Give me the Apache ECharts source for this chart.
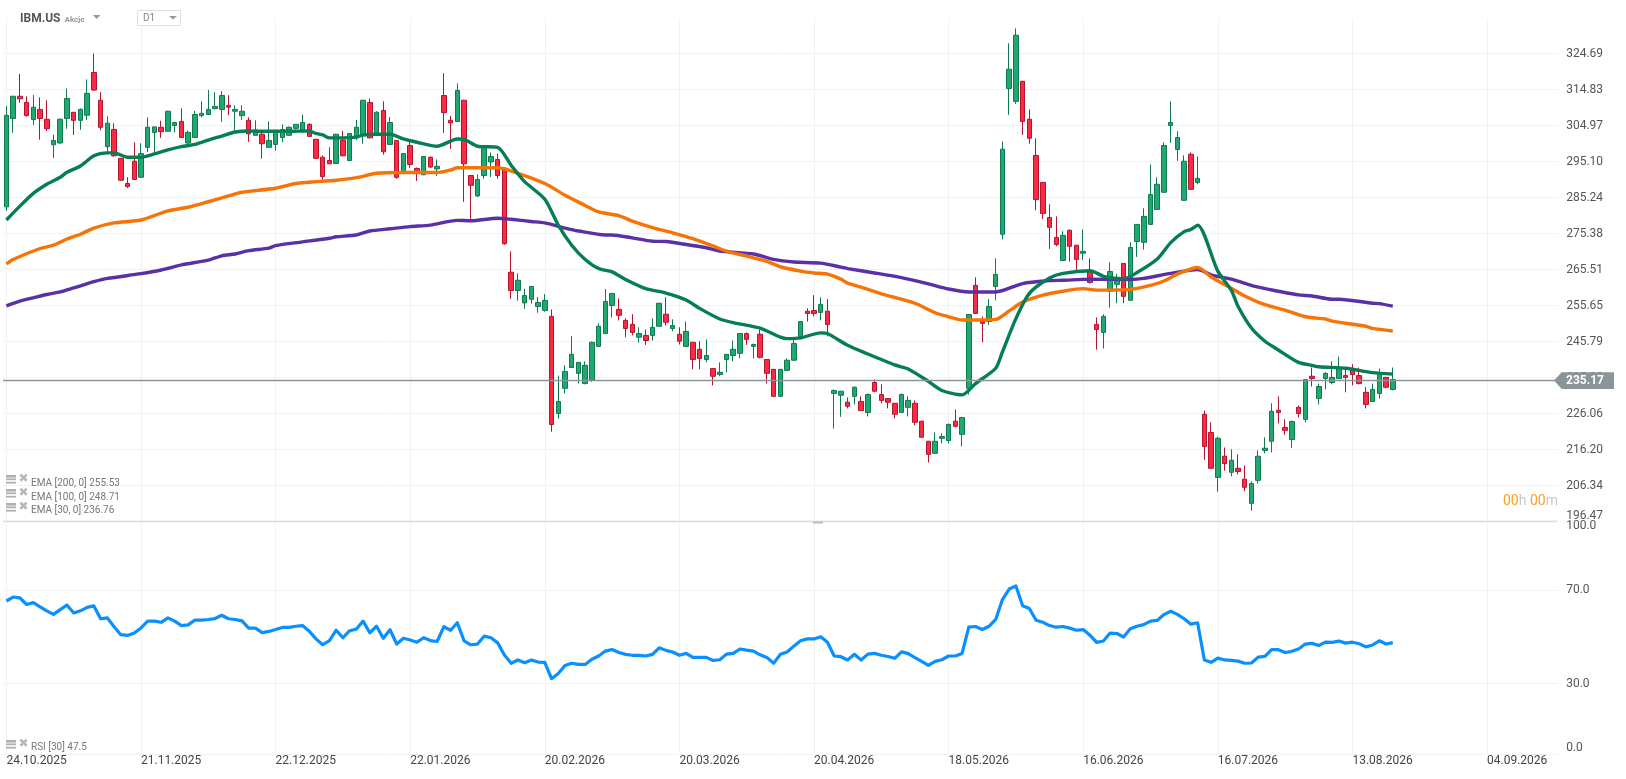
<!DOCTYPE html>
<html><head><meta charset="utf-8">
<style>html,body{margin:0;padding:0;background:#fff}#c{width:1626px;height:779px}</style>
<script src="https://cdn.jsdelivr.net/npm/echarts@6/dist/echarts.min.js"></script>
</head><body><div id="c"></div>
<script>
const dateLabels=['24.10.2025','21.11.2025','22.12.2025','22.01.2026','20.02.2026','20.03.2026','20.04.2026','18.05.2026','16.06.2026','16.07.2026','13.08.2026','04.09.2026'];
const priceTicks=[196.47,206.34,216.20,226.06,235.93,245.79,255.65,265.51,275.38,285.24,295.10,304.97,314.83,324.69];
const rsiTicks=[0,30,70,100];
const lastPrice=235.17;
// [open, close, low, high]
const candles=[
[282.7,307.8,281.6,310.3],[306.9,313.0,303.0,313.1],[313.0,312.3,311.2,319.1],[311.3,307.7,307.4,313.0],[306.6,310.0,305.1,313.3],[309.4,306.9,301.1,312.7],[306.7,304.1,303.5,311.9],[299.7,300.9,296.1,302.5],[300.2,306.7,300.0,306.9],[306.9,312.4,304.1,315.1],
[308.6,306.4,302.4,308.7],[306.4,309.4,303.8,309.7],[307.8,313.8,306.5,317.6],[319.5,314.7,314.5,324.7],[311.9,304.5,303.7,314.1],[299.2,305.6,297.5,307.5],[303.9,296.7,296.4,305.6],[296.0,290.0,289.9,296.1],[289.1,288.3,287.9,290.8],[295.2,290.2,290.1,300.4],
[290.8,297.3,290.7,300.1],[299.0,304.5,297.7,307.2],[303.1,304.6,297.3,304.7],[304.5,303.3,301.6,306.3],[303.4,308.9,303.3,309.0],[305.0,305.8,303.1,306.0],[306.1,301.7,301.6,309.7],[300.2,303.1,299.4,303.6],[301.7,308.0,301.6,309.0],[307.7,308.3,307.2,311.6],
[308.0,309.4,308.0,314.7],[309.6,310.2,309.4,314.1],[309.4,313.2,306.0,314.4],[310.5,310.0,307.8,313.3],[308.9,309.4,303.6,310.5],[307.7,308.9,306.5,310.5],[306.4,302.7,300.5,307.2],[302.3,303.7,302.2,306.4],[302.6,300.0,295.9,303.5],[299.0,300.9,299.0,306.1],
[299.8,303.1,298.1,303.6],[301.7,303.9,300.4,305.3],[302.3,304.5,302.2,304.7],[304.2,305.3,303.9,305.4],[303.4,305.8,303.3,308.0],[305.3,302.0,302.0,305.6],[301.2,296.0,295.9,301.3],[296.3,291.0,289.4,296.8],[295.4,294.5,294.4,299.0],[294.6,302.6,294.4,302.7],
[301.0,296.7,296.5,303.5],[295.4,302.8,295.4,302.9],[301.6,304.5,301.0,306.5],[302.6,311.9,300.0,312.0],[311.3,301.6,301.5,312.4],[302.8,308.6,302.8,308.9],[309.1,297.8,297.0,311.6],[299.8,305.8,299.8,307.3],[300.9,290.8,290.4,301.0],[291.9,297.3,291.8,297.4],
[299.5,294.3,293.4,300.6],[293.2,291.9,289.8,293.5],[291.5,296.5,291.4,296.6],[296.3,293.6,293.4,296.5],[293.1,293.8,291.2,295.7],[313.2,308.5,303.0,319.3],[306.4,305.7,298.6,307.6],[306.1,314.6,306.1,316.5],[311.9,294.5,284.1,312.0],[291.3,288.6,279.1,291.4],
[285.7,290.2,285.4,291.6],[291.3,299.2,290.4,299.3],[295.0,296.5,290.9,297.6],[295.7,291.3,290.4,297.3],[293.3,272.6,272.3,293.6],[264.8,259.8,257.5,270.5],[259.8,262.6,257.0,264.5],[256.4,258.4,254.8,260.3],[257.4,260.9,256.2,261.0],[255.4,256.5,253.7,258.0],
[254.3,257.1,254.0,258.8],[252.7,223.1,221.1,254.6],[226.1,229.4,224.7,236.5],[233.0,237.6,231.6,239.3],[238.7,242.3,238.7,247.3],[237.1,240.1,234.3,240.2],[234.3,239.3,234.1,240.4],[235.3,245.6,234.8,245.8],[244.5,250.0,244.4,250.8],[248.0,256.8,248.0,260.2],
[255.7,259.0,252.4,259.1],[254.6,253.0,251.6,257.6],[251.6,249.4,247.0,252.2],[250.5,248.3,247.5,253.3],[247.0,248.0,245.5,249.7],[247.5,246.1,244.9,249.1],[247.5,249.7,246.1,252.2],[250.0,256.3,249.9,256.4],[253.3,251.1,250.2,257.9],[249.4,250.2,248.6,251.9],
[247.8,245.9,245.0,249.7],[244.5,248.6,244.4,251.3],[245.6,240.9,238.2,245.7],[243.7,241.2,238.2,245.9],[240.9,242.0,240.1,246.4],[238.4,236.3,233.8,238.5],[236.8,237.4,236.3,240.1],[240.9,242.3,237.4,242.4],[242.0,243.7,240.4,246.1],[242.6,248.0,241.2,248.1],
[248.0,246.4,244.9,248.3],[244.5,245.0,241.2,245.3],[247.8,241.5,241.2,249.1],[240.9,237.1,234.3,241.0],[238.2,230.8,230.7,238.3],[230.8,238.2,230.7,238.3],[237.9,240.7,237.9,241.2],[240.7,245.3,240.6,246.4],[247.2,251.3,246.4,251.4],[254.1,253.5,251.3,254.9],
[254.3,253.5,252.7,258.5],[253.8,256.0,251.6,257.9],[254.1,250.5,247.2,257.4],[231.6,232.4,222.0,232.7],[231.1,232.2,225.2,232.3],[229.2,228.1,227.5,230.5],[230.8,233.3,228.6,233.5],[229.4,226.9,226.9,230.8],[226.4,231.3,225.3,231.6],[234.6,232.2,231.9,235.4],
[231.3,229.7,228.9,234.1],[230.2,229.2,227.5,230.3],[228.9,225.9,224.8,229.0],[226.4,231.3,226.3,231.6],[227.8,229.7,225.3,230.8],[228.9,223.7,222.9,229.7],[224.0,219.6,219.5,224.1],[218.5,214.9,212.7,218.6],[215.2,218.5,215.1,220.9],[219.3,219.8,217.9,220.7],
[218.7,223.1,217.9,223.4],[224.0,222.6,222.3,227.2],[220.4,225.0,217.1,225.1],[233.0,253.2,231.3,253.3],[261.2,253.5,253.5,263.4],[251.6,250.8,245.6,252.7],[251.3,255.4,250.4,257.4],[260.9,264.2,257.1,268.6],[275.2,298.5,273.8,300.6],[315.1,320.4,307.9,327.5],
[311.6,329.7,310.9,331.6],[317.1,306.1,302.4,317.2],[306.7,301.5,300.0,309.4],[296.8,284.7,281.8,301.5],[289.4,280.9,279.4,289.5],[279.8,277.1,271.2,283.4],[274.3,272.4,271.9,280.1],[268.0,274.9,268.0,276.0],[276.3,271.9,267.7,276.5],[272.2,268.3,265.4,272.3],
[270.0,270.5,268.1,276.5],[264.9,262.0,261.7,268.6],[250.5,249.1,243.6,252.4],[248.3,252.7,243.9,253.3],[259.6,265.0,255.1,267.5],[261.5,262.8,256.3,264.3],[267.2,258.2,256.3,267.3],[257.1,271.6,257.0,273.0],[273.2,277.9,269.0,278.0],[273.0,280.1,271.0,282.3],
[277.9,286.1,277.8,294.3],[282.0,288.9,282.0,290.8],[286.7,299.5,286.6,300.4],[305.0,305.8,300.2,311.6],[298.4,301.7,295.3,303.4],[284.5,295.2,284.4,296.8],[297.1,287.5,287.4,297.6],[289.4,290.5,288.9,296.5],[225.9,217.1,213.4,226.9],[220.9,211.1,211.0,223.7],
[208.6,219.3,204.7,219.8],[214.4,212.4,210.4,216.8],[210.0,213.3,208.9,216.3],[211.1,210.2,209.4,214.9],[208.1,205.9,204.8,211.9],[201.5,206.9,199.5,207.5],[207.8,214.4,206.9,216.0],[216.0,216.6,215.2,219.6],[218.5,226.7,215.5,228.9],[227.0,226.4,223.4,230.8],
[222.3,221.5,220.3,224.5],[219.0,223.9,216.7,224.2],[227.8,226.1,225.0,228.3],[224.5,235.4,223.7,235.5],[236.3,235.7,233.5,238.7],[230.2,233.5,228.6,234.3],[235.7,237.1,232.7,237.4],[234.6,236.0,234.1,240.4],[235.7,238.4,235.7,241.7],[236.5,236.0,231.9,238.4],
[238.4,236.8,233.8,239.6],[236.5,234.3,234.1,238.7],[231.9,228.6,227.5,233.3],[229.4,232.7,229.4,234.3],[231.6,237.1,230.2,238.4],[236.0,233.3,233.0,236.1],[232.7,235.4,232.4,238.7]
];
// [bar index, value] read at the visible bends of each average
const ema30=[[0,279.1],[2,282.9],[4,286.4],[6,288.9],[8,290.8],[9,292.2],[11,293.9],[13,296.7],[15,297.5],[16,297.5],[18,296.3],[20,296.3],[22,297.2],[24,298.3],[26,299.2],[28,299.8],[30,301.0],[32,302.1],[34,303.2],[36,303.5],[38,303.4],[42,303.4],[45,303.5],[46,302.8],[47,302.4],[48,301.6],[50,301.6],[52,301.8],[53,302.4],[55,302.6],[57,302.6],[59,301.3],[61,300.4],[64,299.3],[67,301.3],[68,301.2],[70,299.3],[73,299.0],[75,294.1],[77,289.6],[80,284.8],[82,277.7],[84,272.2],[86,268.3],[88,265.8],[90,264.9],[92,262.8],[95,260.3],[98,259.1],[101,257.2],[103,254.9],[106,252.0],[108,251.0],[112,249.5],[113,248.7],[115,247.0],[116,246.6],[118,246.8],[121,248.2],[122,248.0],[125,244.8],[128,242.4],[132,239.4],[134,238.3],[137,234.9],[139,232.4],[142,231.2],[144,234.3],[147,238.5],[148,243.0],[150,252.1],[152,259.0],[155,263.2],[157,264.5],[161,265.2],[163,263.7],[164,263.3],[166,263.0],[168,264.7],[171,268.4],[173,272.9],[175,275.9],[176,276.5],[177,277.7],[180,265.1],[182,259.9],[183,255.5],[185,249.5],[187,245.9],[189,243.5],[192,240.1],[194,239.3],[195,238.9],[199,238.5],[203,237.3],[206,236.9]];
const ema100=[[0,267.1],[1,268.3],[5,271.3],[7,272.2],[9,273.9],[11,275.2],[13,276.9],[16,278.3],[20,279.1],[24,281.6],[27,282.6],[30,284.1],[33,285.7],[35,286.7],[40,287.8],[43,289.1],[46,289.6],[49,290.0],[52,290.7],[55,291.9],[59,292.1],[64,292.1],[66,292.8],[67,293.4],[73,293.4],[76,291.9],[80,289.1],[83,285.9],[86,283.1],[88,281.3],[91,280.3],[93,278.8],[96,277.0],[99,275.6],[102,274.0],[105,272.0],[107,270.6],[110,269.2],[113,267.8],[115,266.3],[118,265.1],[120,264.6],[122,264.3],[124,262.9],[125,261.8],[127,260.7],[130,258.9],[135,256.3],[138,253.7],[140,252.6],[142,251.7],[147,251.9],[149,254.2],[151,256.6],[154,258.5],[157,259.6],[160,260.3],[162,259.9],[167,260.1],[170,261.2],[172,262.4],[174,264.3],[177,266.1],[179,263.5],[182,260.4],[184,258.3],[187,255.9],[190,254.4],[193,252.6],[196,252.0],[197,251.4],[202,250.0],[203,249.4],[206,248.7]];
const ema200=[[0,255.6],[2,256.9],[4,257.8],[6,258.7],[8,259.4],[10,260.5],[13,262.2],[15,263.1],[20,264.4],[23,265.4],[26,266.8],[30,268.1],[32,269.3],[34,269.8],[36,270.7],[39,271.4],[40,272.1],[44,273.1],[48,274.1],[49,274.5],[52,275.0],[54,276.1],[57,276.7],[60,277.3],[63,277.7],[67,279.0],[69,278.9],[73,279.6],[75,279.3],[78,278.7],[80,278.3],[83,276.9],[85,276.1],[89,275.0],[90,275.0],[93,274.2],[96,273.3],[98,273.2],[101,272.4],[104,271.5],[106,270.6],[111,269.8],[114,268.3],[117,267.6],[121,267.3],[124,266.2],[125,265.8],[129,264.6],[133,263.3],[137,261.6],[140,260.2],[143,259.4],[147,259.4],[151,261.7],[155,262.5],[157,262.6],[161,262.9],[167,262.8],[169,263.1],[173,264.5],[177,265.5],[179,264.1],[182,262.9],[186,260.7],[189,259.6],[192,258.6],[194,258.3],[197,257.4],[198,257.4],[203,256.3],[204,256.2],[206,255.5]];
const rsi=[65.3,67.0,66.6,63.8,64.6,62.8,61.1,59.6,61.6,63.6,60.2,61.1,62.6,63.2,57.7,58.1,54.3,50.9,50.6,51.6,53.8,56.7,56.7,56.2,58.1,56.7,54.8,55.1,57.1,57.1,57.4,57.8,59.2,57.7,57.4,56.8,53.7,53.7,51.8,52.3,53.1,54.0,54.0,54.5,54.8,52.4,49.1,46.6,48.4,52.8,49.6,52.6,53.3,56.7,51.7,54.5,49.4,53.0,46.9,49.4,48.6,47.7,49.6,48.4,48.0,54.3,52.8,56.0,48.3,46.6,46.9,50.3,49.6,47.4,42.2,38.7,40.1,38.9,40.1,39.2,39.1,32.1,34.3,37.7,38.7,38.2,38.2,40.4,41.8,43.9,44.6,43.3,42.5,42.1,42.1,41.8,42.5,45.3,44.2,43.5,42.1,42.9,41.2,41.2,41.2,39.9,40.2,42.6,42.9,44.8,44.3,43.9,42.3,41.2,38.7,42.5,43.5,46.0,48.3,49.1,49.1,50.0,
47.7,41.8,41.5,40.1,42.5,40.1,42.6,42.9,42.1,41.6,40.8,43.6,42.8,41.1,39.5,37.8,39.5,40.2,41.8,41.8,42.9,54.1,54.4,53.1,54.5,57.4,65.9,70.4,71.7,63.3,62.1,57.1,56.2,54.8,54.1,54.4,53.7,52.8,53.1,50.7,47.6,48.2,51.6,51.4,49.9,53.4,54.5,55.2,56.7,57.0,59.5,60.9,59.6,57.7,55.4,56.0,40.1,39.1,40.9,40.1,39.9,39.6,38.7,38.8,41.3,41.6,44.5,44.5,43.3,43.8,44.8,46.9,47.2,46.3,47.7,47.6,48.2,47.3,47.7,47.0,45.7,46.5,48.3,46.9,47.5];
const legendRows=['EMA [200, 0] 255.53','EMA [100, 0] 248.71','EMA [30, 0] 236.76'];
const rsiLegend='RSI [30] 47.5';

const BAND_COUNT=231;
const categories=Array.from({length:BAND_COUNT},(_,i)=>i%20===0&&dateLabels[i/20]?dateLabels[i/20]:'');
const FONT='Roboto';
const gridColor='#f1f2f3';
const chart=echarts.init(document.getElementById('c'),null,{renderer:'canvas'});
const xSplit={show:true,interval:19,alignWithLabel:true,lineStyle:{color:gridColor,width:1}};
function icon(y){
  return [0,3.4,6.8].map(d=>({type:'rect',shape:{x:6,y:y+d,width:10,height:d===0?2.6:1.8},style:{fill:'#b0b0b0'},z:20}))
   .concat([{type:'text',x:18.5,y:y-2,style:{text:'✖',font:'12px "DejaVu Sans"',fill:'#b8b8b8'},z:20}]);
}
function legendText(t,y){return {type:'text',x:31,y:y,style:{text:t,font:'10px '+FONT,fill:'#777',textVerticalAlign:'middle'},z:20};}
const graphics=[
 {type:'text',x:20,y:19,style:{text:'IBM.US',font:'bold 12px '+FONT,fill:'#555',textVerticalAlign:'middle'},z:20},
 {type:'text',x:64.5,y:19.5,style:{text:'Akcje',font:'bold 8px '+FONT,fill:'#999',textVerticalAlign:'middle'},z:20},
 {type:'polygon',shape:{points:[[93,15],[100.5,15],[96.7,19]]},style:{fill:'#999'},z:20},
 {type:'rect',shape:{x:137.5,y:10.5,width:43,height:15},style:{fill:'#fff',stroke:'#e0e0e0',lineWidth:1},z:20},
 {type:'text',x:143,y:18.5,style:{text:'D1',font:'10px '+FONT,fill:'#888',textVerticalAlign:'middle'},z:21},
 {type:'polygon',shape:{points:[[169,16],[177,16],[173,19.5]]},style:{fill:'#999'},z:21},
 {type:'rect',shape:{x:3,y:521,width:1554,height:1.3},style:{fill:'#dcdcdc'},z:15},
 {type:'rect',shape:{x:813,y:521.5,width:10,height:2},style:{fill:'#bdbdbd'},z:16},
 {type:'polygon',shape:{points:[[1554,380.5],[1561.7,372.3],[1614,372.3],[1614,389],[1561.7,389]]},style:{fill:'#8a9499'},z:20},
 {type:'text',x:1566,y:380.8,style:{text:lastPrice.toFixed(2),font:'bold 12px '+FONT,fill:'#fff',textVerticalAlign:'middle'},z:21},
 {type:'text',x:1503,y:501.5,style:{rich:{a:{fill:'#ff9d23',font:'14px '+FONT},b:{fill:'#c9c9c9',font:'14px '+FONT}},text:'{a|00}{b|h }{a|00}{b|m}',textVerticalAlign:'middle'},z:20},
 ...icon(475),legendText(legendRows[0],483),
 ...icon(489),legendText(legendRows[1],497),
 ...icon(503),legendText(legendRows[2],510.8),
 ...icon(740),legendText(rsiLegend,747.5)
];
chart.setOption({
 animation:false,
 textStyle:{fontFamily:FONT},
 grid:[{left:3.035,top:18,width:1554.63,height:503.7},{left:3.035,top:519.8,width:1554.63,height:234}],
 xAxis:[
  {type:'category',gridIndex:0,data:categories,boundaryGap:true,axisLine:{show:false},axisTick:{show:false},axisLabel:{show:false,interval:19},splitLine:xSplit},
  {type:'category',gridIndex:1,data:categories,boundaryGap:true,axisLine:{show:false},axisTick:{show:false},
   axisLabel:{interval:19,align:'left',margin:1,color:'#444',fontSize:12,fontFamily:FONT},splitLine:xSplit}
 ],
 yAxis:[
  {type:'value',gridIndex:0,position:'right',min:196.47,max:334.43,
   axisLine:{show:false},axisTick:{show:false,customValues:priceTicks},
   axisLabel:{customValues:priceTicks,margin:8.5,color:'#555',fontSize:12,fontFamily:FONT,verticalAlignMinLabel:'bottom',formatter:v=>v.toFixed(2)},
   splitLine:{show:true,lineStyle:{color:gridColor,width:1}}},
  {type:'value',gridIndex:1,position:'right',min:0,max:100,
   axisLine:{show:false},axisTick:{show:false,customValues:rsiTicks},
   axisLabel:{customValues:rsiTicks,margin:8.5,color:'#555',fontSize:12,fontFamily:FONT,verticalAlignMinLabel:'bottom',verticalAlignMaxLabel:'top',formatter:v=>v.toFixed(1)},
   splitLine:{show:true,lineStyle:{color:gridColor,width:1}}}
 ],
 series:[
  {type:'candlestick',xAxisIndex:0,yAxisIndex:0,data:candles,barWidth:5,z:2,clip:false,
   itemStyle:{color:'#20a96e',color0:'#fb2a42',borderColor:'#0f7a52',borderColor0:'#b5142f',borderWidth:1},
   markLine:{symbol:'none',silent:true,animation:false,label:{show:false},lineStyle:{color:'#8a9499',width:1.3,type:'solid'},data:[{yAxis:lastPrice}],z:6}},
  {type:'line',name:'EMA 200',xAxisIndex:0,yAxisIndex:0,data:ema200,showSymbol:false,symbol:'none',smooth:0.25,z:3,lineStyle:{color:'#5b2fa8',width:3.4},clip:false},
  {type:'line',name:'EMA 100',xAxisIndex:0,yAxisIndex:0,data:ema100,showSymbol:false,symbol:'none',smooth:0.25,z:4,lineStyle:{color:'#f87306',width:3.4},clip:false},
  {type:'line',name:'EMA 30',xAxisIndex:0,yAxisIndex:0,data:ema30,showSymbol:false,symbol:'none',smooth:0.25,z:5,lineStyle:{color:'#057d55',width:3.4},clip:false},
  {type:'line',name:'RSI 30',xAxisIndex:1,yAxisIndex:1,data:rsi,showSymbol:false,symbol:'none',z:3,lineStyle:{color:'#0a8fff',width:3.2,join:'round'}}
 ],
 graphic:graphics
});
</script></body></html>
